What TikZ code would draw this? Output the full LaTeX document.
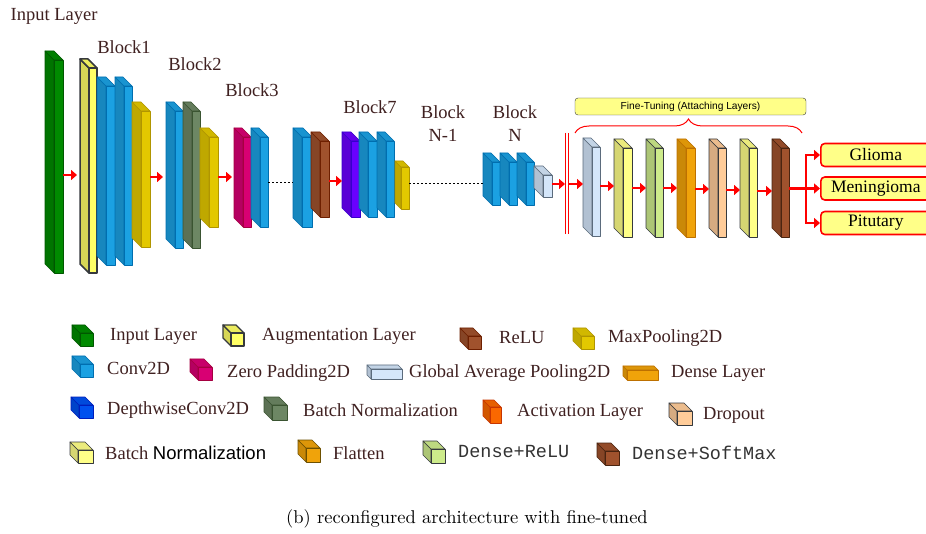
\documentclass[tikz,border=0pt]{standalone}
\usepackage{fontspec}
\usepackage{tikz}
\usetikzlibrary{arrows.meta,decorations.pathreplacing}
\newfontfamily\tnr{Liberation Serif}
\newfontfamily\arial{Liberation Sans}
\newfontfamily\cour{Liberation Mono}
\newfontfamily\cmr{lmroman10-regular}[Extension=.otf]

\definecolor{txt}{HTML}{3F2020}
\definecolor{inp}{HTML}{008A00}    \definecolor{inp-e}{HTML}{005700}
\definecolor{aug}{HTML}{FFFF66}    \definecolor{aug-e}{HTML}{36393D}
\definecolor{conv}{HTML}{1BA1E2}   \definecolor{conv-e}{HTML}{006EAF}
\definecolor{mpool}{HTML}{E3C800}  \definecolor{mpool-e}{HTML}{B09500}
\definecolor{bnorm}{HTML}{6D8764}  \definecolor{bnorm-e}{HTML}{3A5431}
\definecolor{zpad}{HTML}{D80073}   \definecolor{zpad-e}{HTML}{A50040}
\definecolor{relu}{HTML}{A0522D}   \definecolor{relu-e}{HTML}{6D1F00}
\definecolor{dwconv}{HTML}{6A00FF} \definecolor{dwconv-e}{HTML}{3700CC}
\definecolor{dwblue}{HTML}{0050EF} \definecolor{dwblue-e}{HTML}{001DBC}
\definecolor{gap}{HTML}{D4E6FA}    \definecolor{gap-e}{HTML}{5B6B7C}
\definecolor{ftyel}{HTML}{FFFF88}  \definecolor{ftyel-e}{HTML}{36393D}
\definecolor{dnrelu}{HTML}{CDEB8B} \definecolor{dnrelu-e}{HTML}{36393D}
\definecolor{dense}{HTML}{F0A30A}  \definecolor{dense-e}{HTML}{BD7000}
\definecolor{drop}{HTML}{FFCC99}   \definecolor{drop-e}{HTML}{36393D}
\definecolor{act}{HTML}{FA6800}    \definecolor{act-e}{HTML}{C73500}
\definecolor{flat}{HTML}{F0A30A}   \definecolor{flat-e}{HTML}{6D5000}
\definecolor{soft}{HTML}{A0522D}   \definecolor{soft-e}{HTML}{4A2410}

\tikzset{
  arr/.style={draw=red, line width=2.4pt, -{Triangle[length=6pt,width=10pt]}},
  lbl/.style={font=\tnr\fontsize{18.5}{23}\selectfont, text=txt, inner sep=0pt},
  leg/.style={lbl, anchor=west},
  outbox/.style={draw=red, line width=1.6pt, fill=ftyel, rounded corners=4pt,
    minimum width=110pt, minimum height=23pt, anchor=west, inner sep=0pt,
    font=\tnr\fontsize{17.5}{22}\selectfont},
  dots/.style={dash pattern=on 2pt off 2pt, line width=0.7pt},
  layer/.style={line width=0.6pt, line join=round}
}

% [options]{name}{colour}{x}{top}{bottom}{width}{depth}
\newcommand{\layer}[8][]{%
  \begin{scope}[layer,#1]
    \filldraw[draw=#3-e, fill=#3!84!black] (#4-#8,#5-#8) -- (#4,#5) -- (#4,#6) -- (#4-#8,#6-#8) -- cycle;
    \filldraw[draw=#3-e, fill=#3!92!black] (#4-#8,#5-#8) -- (#4+#7-#8,#5-#8) -- (#4+#7,#5) -- (#4,#5) -- cycle;
    \filldraw[draw=#3-e, fill=#3] (#4,#5) rectangle (#4+#7,#6);
  \end{scope}
  \coordinate (#2-l) at (#4-#8,{(#5+#6)/2});
  \coordinate (#2-r) at (#4+#7,{(#5+#6)/2});
}

\begin{document}
\begin{tikzpicture}[x=1pt,y=-1pt]
  \useasboundingbox (0,0) rectangle (926,534);

  % backbone
  \layer{inl}{inp}{54}{60}{273}{9}{9}
  \layer[line width=1.5pt]{augl}{aug}{89}{68}{273}{8}{9}
  \layer{c1a}{conv}{106}{86}{265}{9}{9}
  \layer{c1b}{conv}{124}{86}{265}{8}{9}
  \layer{mp1}{mpool}{141}{111}{247}{9}{9}
  \layer{c2}{conv}{175}{111}{248}{8}{9}
  \layer{bn2}{bnorm}{192}{111}{248}{8}{9}
  \layer{mp2}{mpool}{209}{137}{227}{9}{9}
  \layer{zp3}{zpad}{243}{137}{227}{8}{9}
  \layer{c3}{conv}{260}{137}{227}{8}{9}
  \layer{c6}{conv}{302}{137}{227}{10}{9}
  \layer{relu6}{relu}{320}{141}{217}{9}{9}
  \layer{dw7}{dwconv}{351}{141}{217}{9}{9}
  \layer{c7a}{conv}{368}{141}{217}{9}{9}
  \layer{c7b}{conv}{386}{141}{217}{8}{9}
  \layer{mp7}{mpool}{401}{167}{209}{8}{6}
  \layer{cNa}{conv}{492}{162}{205}{8}{9}
  \layer{cNb}{conv}{509}{162}{205}{8}{9}
  \layer{cNc}{conv}{526}{162}{205}{8}{9}
  \layer{gapN}{gap}{543}{175}{197}{9}{9}

  \draw[arr, shorten >=3pt] (inl-r |- 0,175) -- (augl-l |- 0,175);
  \draw[arr, shorten >=3pt] (mp1-r |- 0,177) -- (c2-l |- 0,177);
  \draw[arr, shorten >=2pt] (mp2-r |- 0,177) -- (zp3-l |- 0,177);
  \draw[dots] (c3-r |- 0,182) -- (c6-l |- 0,182);
  \draw[arr] (relu6-r |- 0,181) -- (dw7-l |- 0,181);
  \draw[dots] (mp7-r |- 0,183) -- (cNa-l |- 0,183);

  \node[lbl] (t-in) at (54,16) {Input Layer};
  \node[lbl] (t-b1) at (124,47) {Block1};
  \node[lbl] (t-b2) at (195,64) {Block2};
  \node[lbl] (t-b3) at (252,90) {Block3};
  \node[lbl] (t-b7) at (370,107) {Block7};
  \node[lbl, align=center] (t-bn1) at (443,124) {Block\\N-1};
  \node[lbl, align=center] (t-bn) at (515,124) {Block\\N};

  % fine-tuning head
  \coordinate (cutL) at (565,184);
  \coordinate (cutR) at (568,184);
  \draw[red, line width=0.8pt] (cutL |- 0,133) -- (cutL |- 0,234)
                               (cutR |- 0,133) -- (cutR |- 0,234);
  \draw[arr] (gapN-r |- cutL) -- (cutL);

  \layer{ft1}{gap}{592}{147}{236}{8}{9}
  \layer{ft2}{ftyel}{623}{148}{237}{9}{9}
  \layer{ft3}{dnrelu}{655}{148}{237}{8}{9}
  \layer{ft4}{dense}{686}{148}{237}{9}{9}
  \layer{ft5}{drop}{718}{148}{237}{8}{9}
  \layer{ft6}{ftyel}{749}{148}{237}{8}{9}
  \layer{ft7}{soft}{781}{148}{237}{8}{9}

  \draw[arr] (cutR) -- (ft1-l |- cutR);
  \draw[arr] (ft1-r |- 0,186) -- (ft2-l |- 0,186);
  \draw[arr] (ft2-r |- 0,188) -- (ft3-l |- 0,188);
  \draw[arr] (ft3-r |- 0,188) -- (ft4-l |- 0,188);
  \draw[arr] (ft4-r |- 0,189) -- (ft5-l |- 0,189);
  \draw[arr] (ft5-r |- 0,190) -- (ft6-l |- 0,190);
  \draw[arr] (ft6-r |- 0,191) -- (ft7-l |- 0,191);

  \node[draw=ftyel-e, fill=ftyel, rounded corners=3pt, minimum width=231pt,
    minimum height=17pt, inner sep=0pt, font=\arial\fontsize{10.2}{12}\selectfont]
    (ftbox) at (690.5,106.5) {Fine-Tuning (Attaching Layers)};
  \draw[red, line width=1pt, decorate, decoration={brace, amplitude=14pt}]
    (575,133) -- (802,133);

  % outputs
  \node[outbox] (glioma) at (820,155) {Glioma};
  \node[outbox] (mening) at (820,188.5) {Meningioma};
  \node[outbox] (pitu) at (820,223) {Pitutary};
  \coordinate (split) at (806,188.5);
  \draw[red, line width=2.4pt] (ft7-r |- split) -- (split);
  \draw[arr] (split) |- (glioma.west);
  \draw[arr] (split) -- (mening.west);
  \draw[arr] (split) |- (pitu.west);

  % legend
  \layer{k-inp}{inp}{80}{333}{346}{13}{8}
  \node[leg] (k-inp-t) at (110,336) {Input Layer};
  \layer[line width=1.3pt]{k-aug}{aug}{231}{333}{346}{13}{8}
  \node[leg] (k-aug-t) at (262,336) {Augmentation Layer};
  \layer{k-relu}{relu}{468}{336}{349}{13}{8}
  \node[leg] (k-relu-t) at (499,338) {ReLU};
  \layer{k-mp}{mpool}{581}{336}{349}{13}{8}
  \node[leg] (k-mp-t) at (608,338) {MaxPooling2D};

  \layer{k-conv}{conv}{80}{364}{377}{13}{8}
  \node[leg] (k-conv-t) at (107,368) {Conv2D};
  \layer{k-zp}{zpad}{198}{367}{380}{14}{8}
  \node[leg] (k-zp-t) at (227,373) {Zero Padding2D};
  \layer{k-gap}{gap}{371}{369}{379}{31}{4}
  \node[leg] (k-gap-t) at (409,373) {Global Average Pooling2D};
  \layer{k-dense}{dense}{627}{370}{380}{31}{4}
  \node[leg] (k-dense-t) at (671,373) {Dense Layer};

  \layer{k-dw}{dwblue}{79}{405}{418}{14}{8}
  \node[leg] (k-dw-t) at (107,410) {DepthwiseConv2D};
  \layer{k-bn}{bnorm}{272}{405}{420}{15}{8}
  \node[leg] (k-bn-t) at (303,410) {Batch Normalization};
  \layer{k-act}{act}{490}{407}{423}{11}{7}
  \node[leg] (k-act-t) at (517,412) {Activation Layer};
  \layer{k-drop}{drop}{677}{411}{425}{15}{8}
  \node[leg] (k-drop-t) at (703,415) {Dropout};

  \layer{k-bn2}{ftyel}{78}{450}{463}{15}{8}
  \node[leg] (k-bn2-t) at (105,453) {Batch {\arial\color{black}Normalization}};
  \layer{k-flat}{flat}{306}{448}{462}{14}{8}
  \node[leg] (k-flat-t) at (333,453) {Flatten};
  \layer{k-dr}{dnrelu}{431}{449}{463}{14}{8}
  \node[leg, font=\cour\fontsize{18.5}{23}\selectfont, text=black!80] (k-dr-t) at (458,451) {Dense+ReLU};
  \layer{k-ds}{soft}{605}{451}{465}{14}{8}
  \node[leg, font=\cour\fontsize{18.5}{23}\selectfont, text=black!80] (k-ds-t) at (632,453) {Dense+SoftMax};

  \node[font=\cmr\fontsize{18.5}{23}\selectfont] (caption) at (467,519)
    {(b) reconfigured architecture with fine-tuned};
\end{tikzpicture}
\end{document}
